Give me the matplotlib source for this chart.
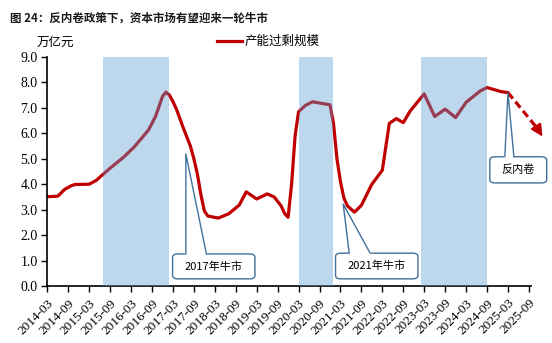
import numpy as np
import pandas as pd
import matplotlib
matplotlib.use('Agg')
import matplotlib.pyplot as plt
from matplotlib.patches import FancyBboxPatch

plt.rcParams['font.family'] = ['Noto Sans CJK SC', 'DejaVu Sans']

# 产能过剩规模（万亿元）
dates = ['2014-03', '2014-06', '2014-08', '2014-10', '2014-11', '2015-03',
         '2015-05', '2015-07', '2015-09', '2016-01', '2016-04', '2016-08',
         '2016-10', '2016-11', '2016-12', '2017-01', '2017-02', '2017-03',
         '2017-04', '2017-06', '2017-08', '2017-09', '2017-10', '2017-11',
         '2017-12', '2018-01', '2018-04', '2018-07', '2018-10', '2018-12',
         '2019-03', '2019-06', '2019-08', '2019-10', '2019-11', '2019-12',
         '2020-01', '2020-02', '2020-03', '2020-05', '2020-07', '2020-12',
         '2021-01', '2021-02', '2021-03', '2021-04', '2021-05', '2021-07',
         '2021-09', '2021-12', '2022-03', '2022-05', '2022-07', '2022-09',
         '2022-11', '2023-03', '2023-06', '2023-09', '2023-12', '2024-03',
         '2024-07', '2024-09', '2025-01', '2025-03']
overcap = [3.51, 3.53, 3.80, 3.95, 3.99, 4.00,
           4.15, 4.39, 4.63, 5.08, 5.48, 6.13,
           6.66, 7.05, 7.45, 7.62, 7.50, 7.25,
           6.95, 6.20, 5.50, 5.00, 4.40, 3.60,
           2.95, 2.75, 2.67, 2.84, 3.18, 3.70,
           3.42, 3.62, 3.50, 3.15, 2.85, 2.70,
           4.00, 5.90, 6.85, 7.10, 7.24, 7.12,
           6.40, 5.00, 4.10, 3.45, 3.15, 2.90,
           3.17, 4.00, 4.55, 6.39, 6.58, 6.42,
           6.88, 7.55, 6.66, 6.95, 6.62, 7.22,
           7.66, 7.80, 7.64, 7.60]

# 牛市区间
bull_spans = [('2015-07', '2017-02'), ('2020-03', '2021-01'), ('2023-02', '2024-09')]

tick_labels = [f'{y}-{m}' for y in range(2014, 2026) for m in ('03', '09')]

start = pd.Period('2014-03', 'M')


def midx(d):
    return (pd.Period(d, 'M') - start).n


x = np.array([midx(d) for d in dates])
y = np.array(overcap)

fig = plt.figure(figsize=(5.52, 3.43), dpi=100)
ax = fig.add_axes([47.3 / 552, 1 - 286 / 343, (531 - 47.3) / 552, (286 - 57) / 343])

red = '#C00000'
ax.plot(x, y, color=red, lw=2.3, solid_joinstyle='round', solid_capstyle='round', zorder=2)

for a, b in bull_spans:
    ax.axvspan(midx(a), midx(b), ymin=0, ymax=1, color='#5A9BD4', alpha=0.4, lw=0, zorder=3)

# 反内卷之后的走势（虚线箭头）
ax.plot([x[-1], 140.5], [y[-1], 6.18], color=red, lw=2.3, ls=(0, (2.4, 1.3)),
        clip_on=False, zorder=4)
ax.annotate('', xy=(142.3, 5.78), xytext=(140.3, 6.22),
            arrowprops=dict(arrowstyle='-|>,head_width=0.35,head_length=0.7',
                            color=red, lw=1.5), annotation_clip=False, zorder=4)

ax.set_xlim(0, 138.6)
ax.set_ylim(0, 9)
ax.set_yticks(np.arange(0, 9.5, 1))
ax.set_yticklabels([f'{v:.1f}' for v in np.arange(0, 9.5, 1)],
                   family='Liberation Serif', fontsize=10)
ax.set_xticks(np.arange(0, 139, 6))
ax.set_xticklabels(tick_labels, rotation=45, ha='right', rotation_mode='anchor',
                   family='Liberation Serif', fontsize=9.5)
ax.tick_params(axis='both', direction='out', length=4, width=1, color='black', pad=3)
ax.tick_params(axis='x', pad=4)
for s in ('top', 'right'):
    ax.spines[s].set_visible(False)
for s in ('left', 'bottom'):
    ax.spines[s].set_linewidth(1.2)


def callout(text, x0, x1, y0, y1, tip, r0, r1):
    box = FancyBboxPatch((x0, y0), x1 - x0, y1 - y0,
                         boxstyle='round,pad=0,rounding_size=1.6',
                         mutation_aspect=0.08,
                         fc='white', ec='#41719C', lw=1.0, clip_on=False, zorder=5)
    ax.add_patch(box)
    ax.plot([r0 + 0.15, r1 - 0.15], [y1, y1], color='white', lw=1.6, clip_on=False, zorder=6)
    ax.plot([r0, tip[0], r1], [y1, tip[1], y1], color='#41719C', lw=1.0,
            clip_on=False, zorder=6)
    ax.text((x0 + x1) / 2, (y0 + y1) / 2, text, ha='center', va='center',
            fontsize=8, color='black', zorder=7)


callout('2017年牛市', 35.9, 59.5, 0.28, 1.26, (39.7, 5.19), 39.7, 45.6)
callout('2021年牛市', 82.6, 106.2, 0.28, 1.29, (84.8, 3.22), 86.5, 92.5)
callout('反内卷', 126.8, 143.1, 4.05, 5.08, (x[-1], y[-1]), 131.1, 133.7)

fig.text(10 / 552, 1 - 18 / 343, '图 24：反内卷政策下，资本市场有望迎来一轮牛市',
         fontsize=8.3, fontweight='bold', color='#1a1a1a', va='center', ha='left')
fig.text(37 / 552, 1 - 42 / 343, '万亿元', fontsize=9, va='center', ha='left')

# 图例
fig.add_artist(plt.Line2D([217 / 552, 242 / 552], [1 - 41 / 343] * 2, color=red, lw=2.3))
fig.text(245 / 552, 1 - 41 / 343, '产能过剩规模', fontsize=9, va='center', ha='left')

fig.savefig('out.png', dpi=100)
